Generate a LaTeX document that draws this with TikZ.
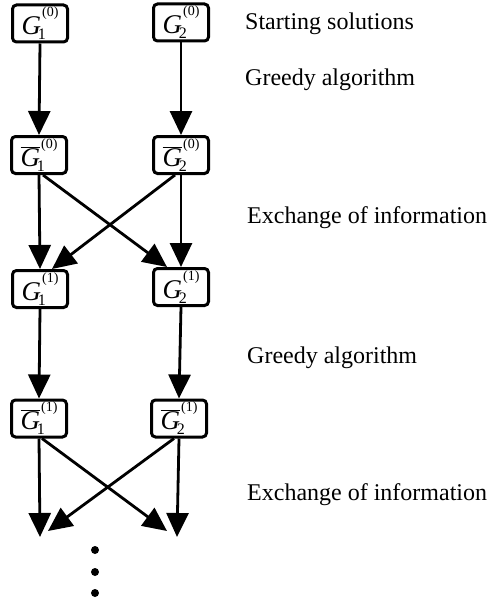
\documentclass[tikz,border=0pt]{standalone}
\usepackage{fontspec}
\setmainfont{Liberation Serif}
\usetikzlibrary{arrows.meta}
\newcommand{\Gsym}[3]{\fontsize{27}{27}\selectfont #1\rlap{\kern-0.12em\raisebox{-5pt}{\fontsize{16}{16}\selectfont #2}}\raisebox{18pt}{\kern0.04em\fontsize{14}{14}\selectfont(#3)}}
\newcommand{\Gp}{\textit{G}}
\newcommand{\Gbar}{$\overline{\mbox{\textit{G}}}$}
\tikzset{
  solbox/.style={draw, line width=3pt, rounded corners=4pt, minimum width=55pt, minimum height=37pt, inner sep=1pt},
  flow/.style={line width=2.8pt, -{Triangle[length=24pt,width=22pt]}},
  lbl/.style={anchor=base west, font=\fontsize{24}{24}\selectfont, inner sep=0pt},
  dotmark/.style={fill, circle, minimum size=8pt, inner sep=0pt}
}
\begin{document}
\begin{tikzpicture}[x=1pt,y=-1pt]
\useasboundingbox (0,0) rectangle (489,602);
\node[solbox] (a0) at (40,23.5) {\Gsym{\Gp}{1}{0}};
\node[solbox] (b0) at (181,22.5) {\Gsym{\Gp}{2}{0}};
\node[solbox] (a1) at (39,155) {\Gsym{\Gbar}{1}{0}};
\node[solbox] (b1) at (181,155) {\Gsym{\Gbar}{2}{0}};
\node[solbox] (a2) at (40,289) {\Gsym{\Gp}{1}{1}};
\node[solbox] (b2) at (181,287) {\Gsym{\Gp}{2}{1}};
\node[solbox] (a3) at (39,418.5) {\Gsym{\Gbar}{1}{1}};
\node[solbox] (b3) at (179,418.5) {\Gsym{\Gbar}{2}{1}};

\coordinate (la) at (40,537);
\coordinate (lc) at (48,531);
\coordinate (rb) at (177,537);
\coordinate (rc) at (167,531);

\draw[flow] (a0.south) -- (a1.north);
\draw[flow] (b0.south) -- (b1.north);
\draw[flow] (a1.south) -- (a2.north);
\draw[flow] (b1.south) -- (b2.north);
\draw[flow] ([xshift=4pt]a1.south) -- ([xshift=-14pt]b2.north);
\draw[flow] ([xshift=-6pt]b1.south) -- ([xshift=12pt]a2.north);
\draw[flow] (a2.south) -- (a3.north);
\draw[flow] (b2.south) -- (b3.north);
\draw[flow] (a3.south) -- (la);
\draw[flow] (b3.south) -- (rb);
\draw[flow] ([xshift=3pt]a3.south) -- (rc);
\draw[flow] ([xshift=-5pt]b3.south) -- (lc);

\node[dotmark] (d1) at (95,550) {};
\node[dotmark] (d2) at (95,572) {};
\node[dotmark] (d3) at (95,593) {};

\node[lbl] (t1) at (245,30) {Starting solutions};
\node[lbl] (t2) at (245,85) {Greedy algorithm};
\node[lbl] (t3) at (247,223) {Exchange of information};
\node[lbl] (t4) at (247,363) {Greedy algorithm};
\node[lbl] (t5) at (247,500) {Exchange of information};
\end{tikzpicture}
\end{document}
